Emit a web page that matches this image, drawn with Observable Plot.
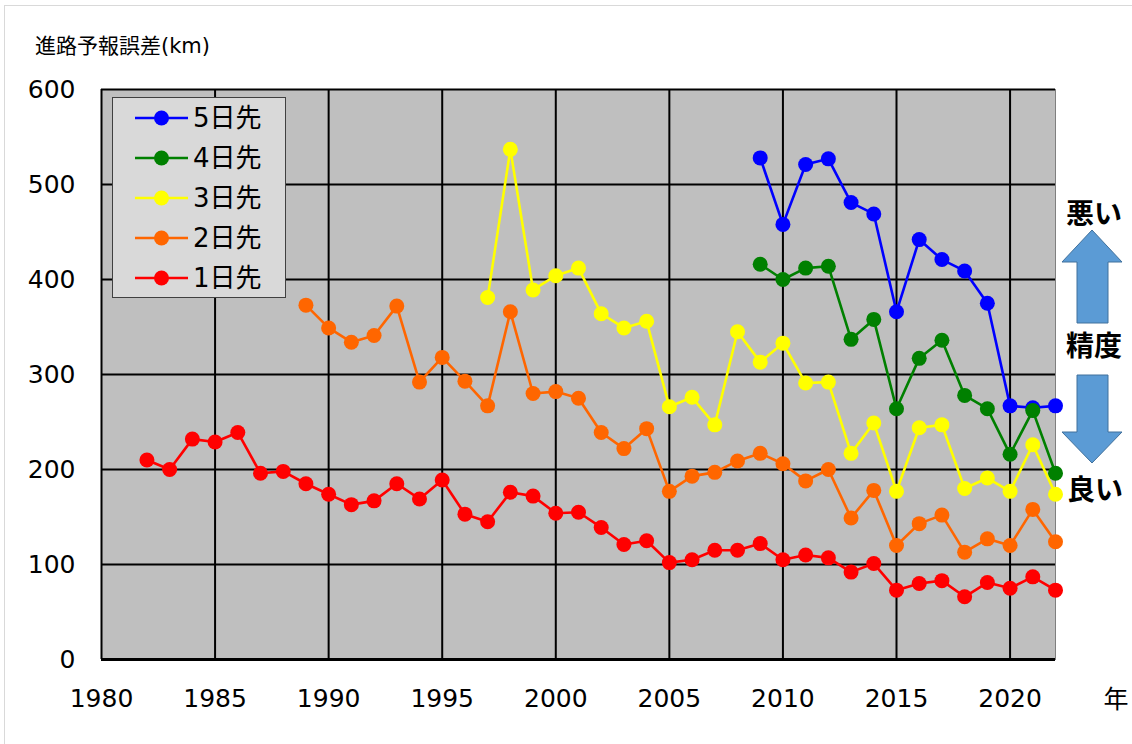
<!DOCTYPE html>
<html>
<head>
<meta charset="utf-8">
<script src="https://cdn.jsdelivr.net/npm/d3@7"></script>
<script src="https://cdn.jsdelivr.net/npm/@observablehq/plot@0.6"></script>
<style>
  html, body { margin: 0; padding: 0; background: #fff; }
  body { font-family: "DejaVu Sans", "Noto Sans CJK JP", sans-serif; color: #000; }
  #wrap { position: relative; width: 1132px; height: 744px; overflow: hidden; }
  #frame { position: absolute; left: 4px; top: 5px; width: 1140px; height: 760px; border: 1.5px solid #d9d9d9; box-sizing: border-box; }
  .ov { position: absolute; white-space: nowrap; line-height: 1; }
</style>
</head>
<body>
<div id="wrap">
  <div id="frame"></div>
  <div id="chart" style="position:absolute;left:0;top:0;"></div>
  <div id="overlay"></div>
</div>
<script>
// ---- data ----
const seriesNames = ["5日先", "4日先", "3日先", "2日先", "1日先"];
const seriesColors = ["#0000ff", "#008000", "#ffff00", "#ff6600", "#ff0000"];
const seriesStart = [2009, 2009, 1997, 1989, 1982];

const day5 = [528, 458, 521, 527, 481, 469, 366, 442, 421, 409, 375, 267, 265, 267];
const day4 = [416, 400, 412, 414, 337, 358, 264, 317, 336, 278, 264, 216, 262, 196];
const day3 = [381, 537, 389, 404, 412, 364, 349, 356, 266, 276, 247, 345, 313, 333, 291, 292, 217, 249, 177, 244, 247, 180, 191, 177, 226, 174];
const day2 = [373, 349, 334, 341, 372, 292, 318, 293, 267, 366, 280, 282, 275, 239, 222, 243, 177, 193, 197, 209, 217, 206, 188, 200, 149, 178, 120, 143, 152, 113, 127, 120, 158, 124];
const day1 = [210, 200, 232, 229, 239, 196, 198, 185, 174, 163, 167, 185, 169, 189, 153, 145, 176, 172, 154, 155, 139, 121, 125, 102, 105, 115, 115, 122, 105, 110, 107, 92, 101, 73, 80, 83, 66, 81, 75, 87, 73];
const seriesValues = [day5, day4, day3, day2, day1];

const xTicks = [1980, 1985, 1990, 1995, 2000, 2005, 2010, 2015, 2020];
const yTicks = [0, 100, 200, 300, 400, 500, 600];
const yTitle = "進路予報誤差(km)";
const xUnit = "年";
const sideTexts = ["悪い", "精度", "良い"];

// ---- build table ----
const rows = seriesNames.flatMap((name, s) =>
  seriesValues[s].map((v, i) => ({ series: name, year: seriesStart[s] + i, value: v }))
);

const font = "'DejaVu Sans', 'Noto Sans CJK JP', sans-serif";

const seriesMarks = seriesNames.flatMap(name => {
  const d = rows.filter(r => r.series === name);
  return [
    Plot.line(d, { x: "year", y: "value", stroke: "series", strokeWidth: 2.6 }),
    Plot.dot(d, { x: "year", y: "value", fill: "series", r: 7.5, stroke: "none" })
  ];
});

const chart = Plot.plot({
  width: 1132,
  height: 744,
  marginTop: 89,
  marginRight: 77,
  marginBottom: 85,
  marginLeft: 101,
  style: { fontFamily: font, fontSize: "25px", background: "transparent", color: "#000", overflow: "visible" },
  x: { domain: [1980, 2022], label: null },
  y: { domain: [0, 600], label: null },
  color: { domain: seriesNames, range: seriesColors },
  marks: [
    Plot.frame({ fill: "#bfbfbf", stroke: "#7f7f7f", strokeWidth: 1 }),
    Plot.gridX(xTicks, { stroke: "#000", strokeOpacity: 1, strokeWidth: 2 }),
    Plot.gridY(yTicks, { stroke: "#000", strokeOpacity: 1, strokeWidth: 2 }),
    Plot.ruleY([0], { stroke: "#000", strokeWidth: 3 }),
    ...seriesMarks,
    Plot.axisX(xTicks, { tickSize: 0, tickPadding: 30, fontSize: 25, tickFormat: d => String(d), label: null }),
    Plot.axisY(yTicks, { tickSize: 0, tickPadding: 26, fontSize: 25, tickFormat: d => String(d), label: null })
  ]
});
document.getElementById("chart").appendChild(chart);

// ---- overlays: titles, legend, side annotation ----
const ov = document.getElementById("overlay");
function addText(txt, left, cy, size, weight, anchorCenter) {
  const el = document.createElement("div");
  el.className = "ov";
  el.textContent = txt;
  el.style.fontSize = size + "px";
  el.style.fontWeight = weight;
  el.style.top = (cy - size / 2) + "px";
  el.style.left = left + "px";
  if (anchorCenter) el.style.transform = "translateX(-50%)";
  ov.appendChild(el);
  return el;
}
addText(yTitle, 35, 46, 21, "normal", false);
addText(xUnit, 1116, 699, 25, "normal", true);
addText(sideTexts[0], 1094, 215, 28, "bold", true);
addText(sideTexts[1], 1094, 347, 28, "bold", true);
addText(sideTexts[2], 1095, 491, 28, "bold", true);

// arrows
const ns = "http://www.w3.org/2000/svg";
const arrowSvg = document.createElementNS(ns, "svg");
arrowSvg.setAttribute("width", 1132);
arrowSvg.setAttribute("height", 744);
arrowSvg.style.position = "absolute";
arrowSvg.style.left = "0";
arrowSvg.style.top = "0";
const arrows = [
  "1092,230 1122,262 1108,262 1108,323 1077,323 1077,262 1062,262",
  "1077,375 1108,375 1108,432 1122,432 1092,463 1062,432 1077,432"
];
arrows.forEach(p => {
  const poly = document.createElementNS(ns, "polygon");
  poly.setAttribute("points", p);
  poly.setAttribute("fill", "#5b9bd5");
  poly.setAttribute("stroke", "#41719c");
  poly.setAttribute("stroke-width", "1");
  arrowSvg.appendChild(poly);
});
ov.appendChild(arrowSvg);

// legend
const legend = document.createElement("div");
legend.style.cssText = "position:absolute;left:112px;top:97px;width:174px;height:201px;background:#d9d9d9;border:1.5px solid #404040;box-sizing:border-box;";
seriesNames.forEach((name, i) => {
  const cy = 20 + i * 40;
  const sw = document.createElementNS(ns, "svg");
  sw.setAttribute("width", 56);
  sw.setAttribute("height", 18);
  sw.style.cssText = `position:absolute;left:21px;top:${cy - 9}px;`;
  const ln = document.createElementNS(ns, "line");
  ln.setAttribute("x1", 1); ln.setAttribute("x2", 54);
  ln.setAttribute("y1", 9); ln.setAttribute("y2", 9);
  ln.setAttribute("stroke", seriesColors[i]); ln.setAttribute("stroke-width", 2.6);
  const c = document.createElementNS(ns, "circle");
  c.setAttribute("cx", 27.5); c.setAttribute("cy", 9); c.setAttribute("r", 7.5);
  c.setAttribute("fill", seriesColors[i]);
  sw.appendChild(ln); sw.appendChild(c);
  legend.appendChild(sw);
  const t = document.createElement("div");
  t.className = "ov";
  t.textContent = name;
  t.style.cssText += `font-size:26px;left:80px;top:${cy - 13}px;`;
  legend.appendChild(t);
});
ov.appendChild(legend);
</script>
</body>
</html>
